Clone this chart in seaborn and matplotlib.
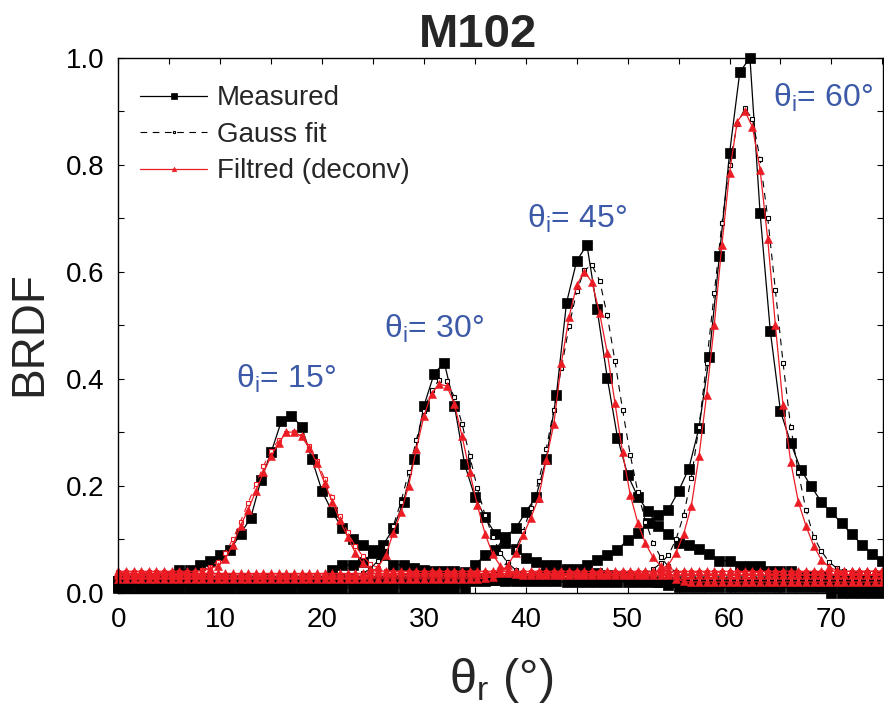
import numpy as np
import pandas as pd
import seaborn as sns
import matplotlib.pyplot as plt
from matplotlib.ticker import MultipleLocator, FormatStrFormatter

# angles (deg): measured every 1 deg, fit / deconvolved every 0.75 deg
theta_meas = np.arange(0, 76, 1.0)
theta_fit = np.arange(0, 75.01, 0.75)

incidences = ["15", "30", "45", "60"]

# measured BRDF, one list per incidence angle
meas_15 = [0.021, 0.021, 0.022, 0.024, 0.027, 0.032, 0.042, 0.043, 0.052, 0.06,
           0.071, 0.08, 0.11, 0.14, 0.21, 0.262, 0.32, 0.331, 0.31, 0.25,
           0.19, 0.151, 0.12, 0.1, 0.09, 0.08, 0.07, 0.052, 0.052, 0.046,
           0.043, 0.041, 0.04, 0.04, 0.039, 0.026, 0.025, 0.024, 0.024, 0.023,
           0.022, 0.021, 0.021, 0.021, 0.02, 0.02, 0.02, 0.02, 0.02, 0.02,
           0.02, 0.02, 0.02, 0.02, 0.02, 0.02, 0.02, 0.02, 0.02, 0.02,
           0.02, 0.02, 0.02, 0.02, 0.02, 0.02, 0.02, 0.02, 0.02, 0.02,
           0.0, 0.0, 0.0, 0.0, 0.0, 0.0]
meas_30 = [0.011, 0.011, 0.011, 0.01, 0.01, 0.011, 0.011, 0.011, 0.01, 0.01,
           0.011, 0.011, 0.011, 0.01, 0.01, 0.011, 0.011, 0.011, 0.01, 0.01,
           0.011, 0.042, 0.052, 0.052, 0.058, 0.074, 0.089, 0.12, 0.17, 0.249,
           0.349, 0.409, 0.43, 0.349, 0.24, 0.179, 0.141, 0.11, 0.092, 0.082,
           0.065, 0.058, 0.052, 0.052, 0.045, 0.042, 0.04, 0.036, 0.033, 0.032,
           0.03, 0.028, 0.025, 0.02, 0.015, 0.011, 0.011, 0.011, 0.011, 0.011,
           0.011, 0.011, 0.011, 0.011, 0.011, 0.011, 0.011, 0.011, 0.011, 0.011,
           0.011, 0.011, 0.011, 0.011, 0.011, 0.011]
meas_45 = [0.009, 0.009, 0.009, 0.009, 0.009, 0.009, 0.009, 0.009, 0.009, 0.009,
           0.009, 0.009, 0.009, 0.009, 0.009, 0.009, 0.009, 0.009, 0.009, 0.009,
           0.009, 0.009, 0.009, 0.009, 0.009, 0.009, 0.009, 0.009, 0.009, 0.009,
           0.009, 0.009, 0.009, 0.009, 0.009, 0.052, 0.07, 0.08, 0.105, 0.12,
           0.151, 0.179, 0.249, 0.369, 0.542, 0.62, 0.65, 0.53, 0.401, 0.29,
           0.22, 0.179, 0.152, 0.124, 0.11, 0.092, 0.089, 0.081, 0.072, 0.06,
           0.06, 0.05, 0.05, 0.05, 0.04, 0.04, 0.04, 0.032, 0.032, 0.032,
           0.026, 0.025, 0.025, 0.025, 0.025, 0.025]
meas_60 = [0.022, 0.022, 0.023, 0.022, 0.021, 0.022, 0.022, 0.023, 0.022, 0.021,
           0.022, 0.022, 0.023, 0.022, 0.021, 0.022, 0.022, 0.023, 0.022, 0.021,
           0.022, 0.022, 0.023, 0.022, 0.021, 0.022, 0.022, 0.023, 0.022, 0.021,
           0.022, 0.022, 0.023, 0.022, 0.021, 0.022, 0.022, 0.023, 0.022, 0.022,
           0.025, 0.03, 0.035, 0.038, 0.042, 0.045, 0.052, 0.061, 0.07, 0.08,
           0.099, 0.111, 0.13, 0.145, 0.155, 0.19, 0.232, 0.308, 0.44, 0.629,
           0.821, 0.972, 1.0, 0.709, 0.489, 0.339, 0.28, 0.23, 0.199, 0.17,
           0.15, 0.13, 0.109, 0.09, 0.072, 0.06]

# gaussian fits
gauss_15 = [0.038, 0.038, 0.038, 0.038, 0.038, 0.038, 0.038, 0.038, 0.038, 0.038,
            0.039, 0.042, 0.048, 0.058, 0.075, 0.1, 0.133, 0.168, 0.203, 0.237,
            0.265, 0.286, 0.298, 0.3, 0.292, 0.274, 0.247, 0.213, 0.178, 0.143,
            0.113, 0.088, 0.068, 0.054, 0.046, 0.041, 0.039, 0.038, 0.038, 0.038,
            0.038, 0.038, 0.038, 0.038, 0.038, 0.038, 0.038, 0.038, 0.038, 0.038,
            0.038, 0.038, 0.038, 0.038, 0.038, 0.038, 0.038, 0.038, 0.038, 0.038,
            0.038, 0.038, 0.038, 0.038, 0.038, 0.038, 0.038, 0.038, 0.038, 0.038,
            0.038, 0.038, 0.038, 0.038, 0.038, 0.038, 0.038, 0.038, 0.038, 0.038,
            0.038, 0.038, 0.038, 0.038, 0.038, 0.038, 0.038, 0.038, 0.038, 0.038,
            0.038, 0.038, 0.038, 0.038, 0.038, 0.038, 0.038, 0.038, 0.038, 0.038,
            0.038]
gauss_30 = [0.031, 0.031, 0.031, 0.031, 0.031, 0.031, 0.031, 0.031, 0.031, 0.031,
            0.031, 0.031, 0.031, 0.031, 0.031, 0.031, 0.031, 0.031, 0.031, 0.031,
            0.031, 0.031, 0.031, 0.031, 0.031, 0.031, 0.031, 0.031, 0.031, 0.031,
            0.031, 0.031, 0.036, 0.045, 0.06, 0.085, 0.125, 0.17, 0.225, 0.285,
            0.34, 0.378, 0.398, 0.395, 0.365, 0.315, 0.255, 0.195, 0.145, 0.105,
            0.075, 0.055, 0.043, 0.036, 0.031, 0.031, 0.031, 0.031, 0.031, 0.031,
            0.031, 0.031, 0.031, 0.031, 0.031, 0.031, 0.031, 0.031, 0.031, 0.031,
            0.031, 0.031, 0.031, 0.031, 0.031, 0.031, 0.031, 0.031, 0.031, 0.031,
            0.031, 0.031, 0.031, 0.031, 0.031, 0.031, 0.031, 0.031, 0.031, 0.031,
            0.031, 0.031, 0.031, 0.031, 0.031, 0.031, 0.031, 0.031, 0.031, 0.031,
            0.031]
gauss_45 = [0.024, 0.024, 0.024, 0.024, 0.024, 0.024, 0.024, 0.024, 0.024, 0.024,
            0.024, 0.024, 0.024, 0.024, 0.024, 0.024, 0.024, 0.024, 0.024, 0.024,
            0.024, 0.024, 0.024, 0.024, 0.024, 0.024, 0.024, 0.024, 0.024, 0.024,
            0.024, 0.024, 0.024, 0.024, 0.024, 0.024, 0.024, 0.024, 0.024, 0.024,
            0.024, 0.024, 0.024, 0.024, 0.024, 0.024, 0.024, 0.024, 0.026, 0.032,
            0.043, 0.058, 0.082, 0.115, 0.158, 0.208, 0.268, 0.342, 0.42, 0.498,
            0.563, 0.603, 0.612, 0.583, 0.518, 0.433, 0.342, 0.258, 0.188, 0.133,
            0.093, 0.066, 0.049, 0.038, 0.031, 0.026, 0.024, 0.024, 0.024, 0.024,
            0.024, 0.024, 0.024, 0.024, 0.024, 0.024, 0.024, 0.024, 0.024, 0.024,
            0.024, 0.024, 0.024, 0.024, 0.024, 0.024, 0.024, 0.024, 0.024, 0.024,
            0.024]
gauss_60 = [0.034, 0.034, 0.034, 0.034, 0.034, 0.034, 0.034, 0.034, 0.034, 0.034,
            0.034, 0.034, 0.034, 0.034, 0.034, 0.034, 0.034, 0.034, 0.034, 0.034,
            0.034, 0.034, 0.034, 0.034, 0.034, 0.034, 0.034, 0.034, 0.034, 0.034,
            0.034, 0.034, 0.034, 0.034, 0.034, 0.034, 0.034, 0.034, 0.034, 0.034,
            0.034, 0.034, 0.034, 0.034, 0.034, 0.034, 0.034, 0.034, 0.034, 0.034,
            0.034, 0.034, 0.034, 0.034, 0.034, 0.034, 0.034, 0.034, 0.034, 0.034,
            0.034, 0.034, 0.034, 0.034, 0.034, 0.034, 0.034, 0.034, 0.034, 0.037,
            0.044, 0.055, 0.07, 0.1, 0.145, 0.215, 0.31, 0.43, 0.56, 0.69,
            0.8, 0.875, 0.905, 0.885, 0.81, 0.7, 0.565, 0.43, 0.31, 0.225,
            0.155, 0.105, 0.078, 0.058, 0.046, 0.04, 0.038, 0.038, 0.038, 0.038,
            0.038]

# deconvolved ("filtred") curves
filt_15 = [0.04, 0.04, 0.04, 0.04, 0.04, 0.04, 0.04, 0.04, 0.04, 0.04,
           0.04, 0.041, 0.045, 0.05, 0.063, 0.09, 0.125, 0.155, 0.19, 0.225,
           0.255, 0.28, 0.3, 0.3, 0.292, 0.27, 0.242, 0.205, 0.17, 0.135,
           0.105, 0.075, 0.055, 0.045, 0.041, 0.04, 0.04, 0.04, 0.04, 0.04,
           0.04, 0.04, 0.04, 0.04, 0.04, 0.04, 0.04, 0.04, 0.04, 0.04,
           0.04, 0.04, 0.04, 0.04, 0.04, 0.04, 0.04, 0.04, 0.04, 0.04,
           0.04, 0.04, 0.04, 0.04, 0.04, 0.04, 0.04, 0.04, 0.04, 0.04,
           0.04, 0.04, 0.04, 0.04, 0.04, 0.04, 0.04, 0.04, 0.04, 0.04,
           0.04, 0.04, 0.04, 0.04, 0.04, 0.04, 0.04, 0.04, 0.04, 0.04,
           0.04, 0.04, 0.04, 0.04, 0.04, 0.04, 0.04, 0.04, 0.04, 0.04,
           0.04]
filt_30 = [0.033, 0.033, 0.033, 0.033, 0.033, 0.033, 0.033, 0.033, 0.033, 0.033,
           0.033, 0.033, 0.033, 0.033, 0.033, 0.033, 0.033, 0.033, 0.033, 0.033,
           0.033, 0.033, 0.033, 0.033, 0.033, 0.033, 0.033, 0.033, 0.033, 0.033,
           0.033, 0.033, 0.033, 0.036, 0.048, 0.07, 0.112, 0.15, 0.2, 0.268,
           0.33, 0.372, 0.39, 0.386, 0.352, 0.292, 0.225, 0.163, 0.11, 0.072,
           0.05, 0.04, 0.035, 0.033, 0.033, 0.033, 0.033, 0.033, 0.033, 0.033,
           0.033, 0.033, 0.033, 0.033, 0.033, 0.033, 0.033, 0.033, 0.033, 0.033,
           0.033, 0.033, 0.033, 0.033, 0.033, 0.033, 0.033, 0.033, 0.033, 0.033,
           0.033, 0.033, 0.033, 0.033, 0.033, 0.033, 0.033, 0.033, 0.033, 0.033,
           0.033, 0.033, 0.033, 0.033, 0.033, 0.033, 0.033, 0.033, 0.033, 0.033,
           0.033]
filt_45 = [0.026, 0.026, 0.026, 0.026, 0.026, 0.026, 0.026, 0.026, 0.026, 0.026,
           0.026, 0.026, 0.026, 0.026, 0.026, 0.026, 0.026, 0.026, 0.026, 0.026,
           0.026, 0.026, 0.026, 0.026, 0.026, 0.026, 0.026, 0.026, 0.026, 0.026,
           0.026, 0.026, 0.026, 0.026, 0.026, 0.026, 0.026, 0.026, 0.026, 0.026,
           0.026, 0.026, 0.026, 0.026, 0.026, 0.026, 0.026, 0.026, 0.027, 0.03,
           0.038, 0.052, 0.075, 0.108, 0.14, 0.177, 0.248, 0.315, 0.43, 0.515,
           0.575, 0.6, 0.58, 0.522, 0.448, 0.355, 0.262, 0.183, 0.13, 0.092,
           0.066, 0.05, 0.036, 0.026, 0.021, 0.02, 0.02, 0.02, 0.02, 0.02,
           0.02, 0.02, 0.02, 0.02, 0.02, 0.02, 0.02, 0.02, 0.02, 0.02,
           0.02, 0.02, 0.02, 0.02, 0.02, 0.02, 0.02, 0.02, 0.02, 0.02,
           0.02]
filt_60 = [0.036, 0.036, 0.036, 0.036, 0.036, 0.036, 0.036, 0.036, 0.036, 0.036,
           0.036, 0.036, 0.036, 0.036, 0.036, 0.036, 0.036, 0.036, 0.036, 0.036,
           0.036, 0.036, 0.036, 0.036, 0.036, 0.036, 0.036, 0.036, 0.036, 0.036,
           0.036, 0.036, 0.036, 0.036, 0.036, 0.036, 0.036, 0.036, 0.036, 0.036,
           0.036, 0.036, 0.036, 0.036, 0.036, 0.036, 0.036, 0.036, 0.036, 0.036,
           0.036, 0.036, 0.036, 0.036, 0.036, 0.036, 0.036, 0.036, 0.036, 0.036,
           0.036, 0.036, 0.036, 0.036, 0.036, 0.036, 0.036, 0.036, 0.036, 0.036,
           0.038, 0.044, 0.052, 0.075, 0.11, 0.162, 0.255, 0.37, 0.5, 0.65,
           0.785, 0.88, 0.9, 0.87, 0.79, 0.66, 0.5, 0.35, 0.245, 0.17,
           0.125, 0.088, 0.062, 0.048, 0.042, 0.04, 0.04, 0.04, 0.04, 0.04,
           0.04]

measured = [meas_15, meas_30, meas_45, meas_60]
gauss = [gauss_15, gauss_30, gauss_45, gauss_60]
filtred = [filt_15, filt_30, filt_45, filt_60]

# where the "theta_i = .." labels sit (data coords, left/baseline)
label_pos = [(11.55, 0.383), (26.1, 0.476), (40.1, 0.681), (64.3, 0.908)]

RED = "#ec1c24"
BLUE = "#3d5aa9"

sns.set_style("ticks")
plt.rcParams['font.family'] = ['Liberation Sans', 'DejaVu Sans']
plt.rcParams['mathtext.fontset'] = 'custom'
plt.rcParams['mathtext.rm'] = 'Liberation Sans'
plt.rcParams['mathtext.it'] = 'Liberation Sans:italic'
plt.rcParams['mathtext.bf'] = 'Liberation Sans:bold'

fig = plt.figure(figsize=(8.84, 7.10), dpi=100)
ax = fig.add_axes([0.1338, 0.1652, 0.8655, 0.7538])

for k, inc in enumerate(incidences):
    dm = pd.DataFrame({"theta": theta_meas, "brdf": measured[k]})
    sns.lineplot(data=dm, x="theta", y="brdf", ax=ax, estimator=None, sort=False,
                 color="black", lw=0.9, marker="s", markersize=6.5,
                 markerfacecolor="black", markeredgecolor="black", markeredgewidth=0.5,
                 clip_on=False, label="Measured" if k == 0 else None, legend=False)

for k, inc in enumerate(incidences):
    gcol = RED if inc == "15" else "black"
    dg = pd.DataFrame({"theta": theta_fit, "brdf": gauss[k]})
    sns.lineplot(data=dg, x="theta", y="brdf", ax=ax, estimator=None, sort=False,
                 color=gcol, lw=0.8, linestyle=(0, (6, 5)), marker="s", markersize=3.5,
                 markerfacecolor="white", markeredgecolor=gcol, markeredgewidth=0.8,
                 clip_on=False, label="Gauss fit" if k == 1 else None, legend=False)

for k, inc in enumerate(incidences):
    df = pd.DataFrame({"theta": theta_fit, "brdf": filtred[k]})
    sns.lineplot(data=df, x="theta", y="brdf", ax=ax, estimator=None, sort=False,
                 color=RED, lw=0.9, marker="^", markersize=5.5,
                 markerfacecolor=RED, markeredgecolor=RED, markeredgewidth=0.4,
                 clip_on=False, label="Filtred (deconv)" if k == 0 else None, legend=False)

for (lx, ly), inc in zip(label_pos, incidences):
    ax.text(lx, ly, r"$\mathregular{θ_i}$= " + inc + "°", color=BLUE, fontsize=23,
            ha="left", va="baseline")

ax.set_xlim(0, 75.1)
ax.set_ylim(0, 1.0)
ax.xaxis.set_major_locator(MultipleLocator(10))
ax.xaxis.set_minor_locator(MultipleLocator(5))
ax.yaxis.set_major_locator(MultipleLocator(0.2))
ax.yaxis.set_minor_locator(MultipleLocator(0.1))
ax.yaxis.set_major_formatter(FormatStrFormatter("%.1f"))
ax.tick_params(which="both", direction="in", top=True, right=True,
               length=4.5, width=0.8, color="black")
ax.tick_params(which="major", labelsize=20, pad=10, labelcolor="black")
for sp in ax.spines.values():
    sp.set_linewidth(1.0)
    sp.set_color("black")

ax.set_xlabel(r"$\mathregular{θ_r}$ (°)", fontsize=35)
ax.xaxis.set_label_coords(0.5, -0.118)
ax.set_ylabel("BRDF", fontsize=33)
ax.yaxis.set_label_coords(-0.087, 0.485)

fig.text(0.541, 0.951, "M102", fontsize=34, fontweight="bold", ha="center", va="center")

handles, labels = ax.get_legend_handles_labels()
leg = ax.legend(handles, labels, loc="upper left", bbox_to_anchor=(0.029, 0.948),
                frameon=False, fontsize=20, handlelength=2.4, handletextpad=0.35,
                labelspacing=0.38, borderpad=0, borderaxespad=0, markerscale=0.6,
                numpoints=1)

fig.savefig("out.png", dpi=100)
